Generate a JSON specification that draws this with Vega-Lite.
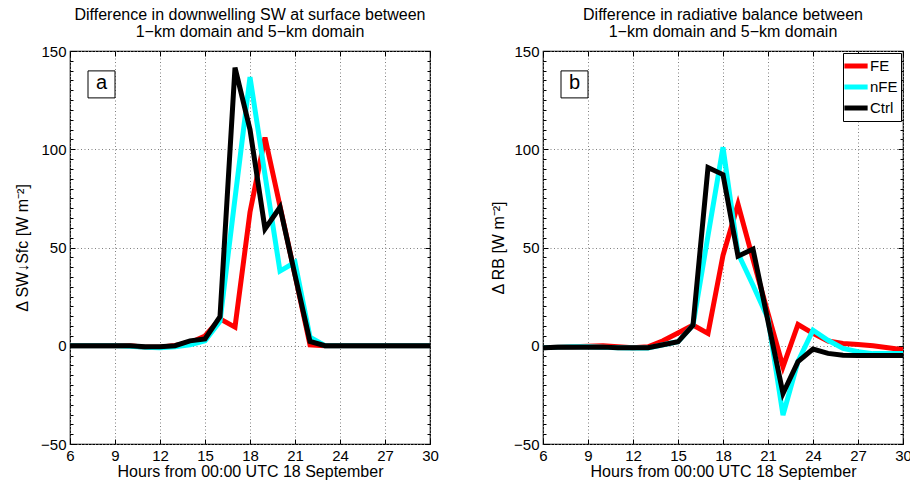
{
  "$schema": "https://vega.github.io/schema/vega-lite/v6.json",
  "padding": {"left": 13, "top": 6, "right": 5, "bottom": 5},
  "background": "white",
  "config": {
    "font": "Liberation Sans",
    "view": {"stroke": "black", "strokeWidth": 1.2},
    "axis": {"domain": false, "labelColor": "black", "titleColor": "black", "tickColor": "black", "labelFontSize": 15, "titleFontSize": 16, "titleFontWeight": "normal", "labelFont": "Liberation Sans", "titleFont": "Liberation Sans"},
    "title": {"fontSize": 16, "fontWeight": "normal", "color": "black", "font": "Liberation Sans", "lineHeight": 17, "offset": 4, "anchor": "middle"}
  },
  "datasets": {
    "A": [
      {"s":"FE","h":6,"v":0},{"s":"FE","h":7,"v":0},{"s":"FE","h":8,"v":0},{"s":"FE","h":9,"v":0},{"s":"FE","h":10,"v":0},{"s":"FE","h":11,"v":-0.8},{"s":"FE","h":12,"v":-0.8},{"s":"FE","h":13,"v":0.2},{"s":"FE","h":14,"v":1.5},{"s":"FE","h":15,"v":5},{"s":"FE","h":16,"v":13.7},{"s":"FE","h":17,"v":9.5},{"s":"FE","h":18,"v":68},{"s":"FE","h":19,"v":106},{"s":"FE","h":20,"v":71},{"s":"FE","h":21,"v":36},{"s":"FE","h":22,"v":0.5},{"s":"FE","h":23,"v":0},{"s":"FE","h":24,"v":0},{"s":"FE","h":25,"v":0},{"s":"FE","h":26,"v":0},{"s":"FE","h":27,"v":0},{"s":"FE","h":28,"v":0},{"s":"FE","h":29,"v":0},{"s":"FE","h":30,"v":0},
      {"s":"nFE","h":6,"v":0},{"s":"nFE","h":7,"v":0},{"s":"nFE","h":8,"v":0},{"s":"nFE","h":9,"v":0},{"s":"nFE","h":10,"v":-0.3},{"s":"nFE","h":11,"v":-0.8},{"s":"nFE","h":12,"v":-1},{"s":"nFE","h":13,"v":-0.5},{"s":"nFE","h":14,"v":0.5},{"s":"nFE","h":15,"v":2.5},{"s":"nFE","h":16,"v":12.5},{"s":"nFE","h":17,"v":75},{"s":"nFE","h":18,"v":136.7},{"s":"nFE","h":19,"v":87},{"s":"nFE","h":20,"v":38},{"s":"nFE","h":21,"v":42.5},{"s":"nFE","h":22,"v":4.4},{"s":"nFE","h":23,"v":0},{"s":"nFE","h":24,"v":0},{"s":"nFE","h":25,"v":0},{"s":"nFE","h":26,"v":0},{"s":"nFE","h":27,"v":0},{"s":"nFE","h":28,"v":0},{"s":"nFE","h":29,"v":0},{"s":"nFE","h":30,"v":0},
      {"s":"Ctrl","h":6,"v":0},{"s":"Ctrl","h":7,"v":0},{"s":"Ctrl","h":8,"v":0},{"s":"Ctrl","h":9,"v":0},{"s":"Ctrl","h":10,"v":0},{"s":"Ctrl","h":11,"v":-0.5},{"s":"Ctrl","h":12,"v":-0.5},{"s":"Ctrl","h":13,"v":0},{"s":"Ctrl","h":14,"v":2.5},{"s":"Ctrl","h":15,"v":3.5},{"s":"Ctrl","h":16,"v":14.8},{"s":"Ctrl","h":17,"v":141.5},{"s":"Ctrl","h":18,"v":110},{"s":"Ctrl","h":19,"v":59.5},{"s":"Ctrl","h":20,"v":70.5},{"s":"Ctrl","h":21,"v":36},{"s":"Ctrl","h":22,"v":2.2},{"s":"Ctrl","h":23,"v":0},{"s":"Ctrl","h":24,"v":0},{"s":"Ctrl","h":25,"v":0},{"s":"Ctrl","h":26,"v":0},{"s":"Ctrl","h":27,"v":0},{"s":"Ctrl","h":28,"v":0},{"s":"Ctrl","h":29,"v":0},{"s":"Ctrl","h":30,"v":0}
    ],
    "B": [
      {"s":"FE","h":6,"v":-1},{"s":"FE","h":7,"v":-0.7},{"s":"FE","h":8,"v":-0.5},{"s":"FE","h":9,"v":-0.3},{"s":"FE","h":10,"v":0},{"s":"FE","h":11,"v":-0.5},{"s":"FE","h":12,"v":-1},{"s":"FE","h":13,"v":-0.5},{"s":"FE","h":14,"v":2.5},{"s":"FE","h":15,"v":6.5},{"s":"FE","h":16,"v":10.5},{"s":"FE","h":17,"v":6.3},{"s":"FE","h":18,"v":46},{"s":"FE","h":19,"v":72},{"s":"FE","h":20,"v":44},{"s":"FE","h":21,"v":16.4},{"s":"FE","h":22,"v":-10.7},{"s":"FE","h":23,"v":10.8},{"s":"FE","h":24,"v":6.3},{"s":"FE","h":25,"v":2.4},{"s":"FE","h":26,"v":1.2},{"s":"FE","h":27,"v":0.6},{"s":"FE","h":28,"v":0},{"s":"FE","h":29,"v":-1},{"s":"FE","h":30,"v":-2},
      {"s":"nFE","h":6,"v":-1},{"s":"nFE","h":7,"v":-0.7},{"s":"nFE","h":8,"v":-0.5},{"s":"nFE","h":9,"v":-0.5},{"s":"nFE","h":10,"v":-0.8},{"s":"nFE","h":11,"v":-1},{"s":"nFE","h":12,"v":-1.2},{"s":"nFE","h":13,"v":-1.2},{"s":"nFE","h":14,"v":0.5},{"s":"nFE","h":15,"v":2},{"s":"nFE","h":16,"v":10.5},{"s":"nFE","h":17,"v":56},{"s":"nFE","h":18,"v":101},{"s":"nFE","h":19,"v":47},{"s":"nFE","h":20,"v":30.8},{"s":"nFE","h":21,"v":13.9},{"s":"nFE","h":22,"v":-35.3},{"s":"nFE","h":23,"v":-8},{"s":"nFE","h":24,"v":7.9},{"s":"nFE","h":25,"v":2.8},{"s":"nFE","h":26,"v":-1.4},{"s":"nFE","h":27,"v":-3},{"s":"nFE","h":28,"v":-4},{"s":"nFE","h":29,"v":-4},{"s":"nFE","h":30,"v":-4},
      {"s":"Ctrl","h":6,"v":-1},{"s":"Ctrl","h":7,"v":-0.8},{"s":"Ctrl","h":8,"v":-0.8},{"s":"Ctrl","h":9,"v":-0.7},{"s":"Ctrl","h":10,"v":-0.7},{"s":"Ctrl","h":11,"v":-1},{"s":"Ctrl","h":12,"v":-1},{"s":"Ctrl","h":13,"v":-1},{"s":"Ctrl","h":14,"v":0.5},{"s":"Ctrl","h":15,"v":2},{"s":"Ctrl","h":16,"v":10.5},{"s":"Ctrl","h":17,"v":90.7},{"s":"Ctrl","h":18,"v":87.1},{"s":"Ctrl","h":19,"v":45.6},{"s":"Ctrl","h":20,"v":49.2},{"s":"Ctrl","h":21,"v":12.5},{"s":"Ctrl","h":22,"v":-24.3},{"s":"Ctrl","h":23,"v":-8.1},{"s":"Ctrl","h":24,"v":-1.7},{"s":"Ctrl","h":25,"v":-3.9},{"s":"Ctrl","h":26,"v":-4.8},{"s":"Ctrl","h":27,"v":-5},{"s":"Ctrl","h":28,"v":-5},{"s":"Ctrl","h":29,"v":-5},{"s":"Ctrl","h":30,"v":-5}
    ]
  },
  "bounds": "flush",
  "spacing": 113,
  "resolve": {"scale": {"color": "independent"}, "legend": {"color": "independent"}},
  "hconcat": [
    {
      "width": 360,
      "height": 393,
      "title": {"text": ["Difference in downwelling SW at surface between", "1−km domain and 5−km domain"]},
      "resolve": {"axis": {"x": "independent", "y": "independent"}},
      "layer": [
        {
          "data": {"name": "A"},
          "mark": {"type": "line", "strokeWidth": 5, "strokeJoin": "miter"},
          "encoding": {
            "x": {"field": "h", "type": "quantitative", "scale": {"domain": [6, 30], "nice": false, "zero": false},
              "axis": {"values": [6,9,12,15,18,21,24,27,30], "grid": true, "gridDash": [1, 2.5], "gridColor": "#808080", "gridWidth": 1, "tickSize": -5, "labelPadding": 9, "labelFlush": false, "title": "Hours from 00:00 UTC 18 September", "titlePadding": 0}},
            "y": {"field": "v", "type": "quantitative", "scale": {"domain": [-50, 150], "nice": false, "zero": false},
              "axis": {"values": [-50,-45,-40,-35,-30,-25,-20,-15,-10,-5,0,5,10,15,20,25,30,35,40,45,50,55,60,65,70,75,80,85,90,95,100,105,110,115,120,125,130,135,140,145,150],
                "labelExpr": "datum.value % 50 === 0 ? datum.label : ''",
                "grid": true, "gridDash": [1, 2.5], "gridColor": "#808080", "gridWidth": 1,
                "gridOpacity": {"condition": {"test": "datum.value % 50 === 0", "value": 1}, "value": 0},
                "tickSize": {"condition": {"test": "datum.value % 50 === 0", "value": -5}, "value": -3},
                "labelPadding": 9, "labelFlush": false, "title": "Δ SW↓Sfc [W m⁻²]", "titlePadding": 10}},
            "color": {"field": "s", "type": "nominal", "scale": {"domain": ["FE", "nFE", "Ctrl"], "range": ["#ff0000", "#00ffff", "#000000"]}, "legend": null}
          }
        },
        {
          "data": {"values": [{"h": 8.1, "v": 133, "t": "a"}]},
          "mark": {"type": "point", "shape": "square", "size": 729, "filled": true, "fill": "white", "stroke": "black", "strokeWidth": 1, "opacity": 1},
          "encoding": {
            "x": {"field": "h", "type": "quantitative", "axis": {"orient": "top", "values": [6,9,12,15,18,21,24,27,30], "labels": false, "grid": false, "tickSize": -5, "title": null}},
            "y": {"field": "v", "type": "quantitative", "axis": {"orient": "right", "values": [-50,-45,-40,-35,-30,-25,-20,-15,-10,-5,0,5,10,15,20,25,30,35,40,45,50,55,60,65,70,75,80,85,90,95,100,105,110,115,120,125,130,135,140,145,150], "labels": false, "grid": false, "tickSize": {"condition": {"test": "datum.value % 50 === 0", "value": -5}, "value": -3}, "title": null}}
          }
        },
        {
          "data": {"values": [{"h": 8.1, "v": 133, "t": "a"}]},
          "mark": {"type": "text", "fontSize": 20, "baseline": "middle", "align": "center", "color": "black", "dy": -1},
          "encoding": {
            "x": {"field": "h", "type": "quantitative", "axis": null},
            "y": {"field": "v", "type": "quantitative", "axis": null},
            "text": {"field": "t"}
          }
        }
      ]
    },
    {
      "width": 360,
      "height": 393,
      "title": {"text": ["Difference in radiative balance between", "1−km domain and 5−km domain"]},
      "resolve": {"axis": {"x": "independent", "y": "independent"}},
      "layer": [
        {
          "data": {"name": "B"},
          "mark": {"type": "line", "strokeWidth": 5, "strokeJoin": "miter"},
          "encoding": {
            "x": {"field": "h", "type": "quantitative", "scale": {"domain": [6, 30], "nice": false, "zero": false},
              "axis": {"values": [6,9,12,15,18,21,24,27,30], "grid": true, "gridDash": [1, 2.5], "gridColor": "#808080", "gridWidth": 1, "tickSize": -5, "labelPadding": 9, "labelFlush": false, "title": "Hours from 00:00 UTC 18 September", "titlePadding": 0}},
            "y": {"field": "v", "type": "quantitative", "scale": {"domain": [-50, 150], "nice": false, "zero": false},
              "axis": {"values": [-50,-45,-40,-35,-30,-25,-20,-15,-10,-5,0,5,10,15,20,25,30,35,40,45,50,55,60,65,70,75,80,85,90,95,100,105,110,115,120,125,130,135,140,145,150],
                "labelExpr": "datum.value % 50 === 0 ? datum.label : ''",
                "grid": true, "gridDash": [1, 2.5], "gridColor": "#808080", "gridWidth": 1,
                "gridOpacity": {"condition": {"test": "datum.value % 50 === 0", "value": 1}, "value": 0},
                "tickSize": {"condition": {"test": "datum.value % 50 === 0", "value": -5}, "value": -3},
                "labelPadding": 9, "labelFlush": false, "title": "Δ RB [W m⁻²]", "titlePadding": 7}},
            "color": {"field": "s", "type": "nominal", "scale": {"domain": ["FE", "nFE", "Ctrl"], "range": ["#ff0000", "#00ffff", "#000000"]},
              "legend": {"orient": "top-right", "offset": 2, "title": null, "strokeColor": "black", "fillColor": "white", "padding": 3, "labelFontSize": 15, "labelFont": "Liberation Sans", "labelColor": "black", "symbolType": "M-1.55,0H1.55", "symbolSize": 225, "symbolStrokeWidth": 5, "rowPadding": 1, "labelOffset": 4}}
          }
        },
        {
          "data": {"values": [{"h": 8.1, "v": 133, "t": "b"}]},
          "mark": {"type": "point", "shape": "square", "size": 729, "filled": true, "fill": "white", "stroke": "black", "strokeWidth": 1, "opacity": 1},
          "encoding": {
            "x": {"field": "h", "type": "quantitative", "axis": {"orient": "top", "values": [6,9,12,15,18,21,24,27,30], "labels": false, "grid": false, "tickSize": -5, "title": null}},
            "y": {"field": "v", "type": "quantitative", "axis": {"orient": "right", "values": [-50,-45,-40,-35,-30,-25,-20,-15,-10,-5,0,5,10,15,20,25,30,35,40,45,50,55,60,65,70,75,80,85,90,95,100,105,110,115,120,125,130,135,140,145,150], "labels": false, "grid": false, "tickSize": {"condition": {"test": "datum.value % 50 === 0", "value": -5}, "value": -3}, "title": null}}
          }
        },
        {
          "data": {"values": [{"h": 8.1, "v": 133, "t": "b"}]},
          "mark": {"type": "text", "fontSize": 20, "baseline": "middle", "align": "center", "color": "black", "dy": -1},
          "encoding": {
            "x": {"field": "h", "type": "quantitative", "axis": null},
            "y": {"field": "v", "type": "quantitative", "axis": null},
            "text": {"field": "t"}
          }
        }
      ]
    }
  ]
}
